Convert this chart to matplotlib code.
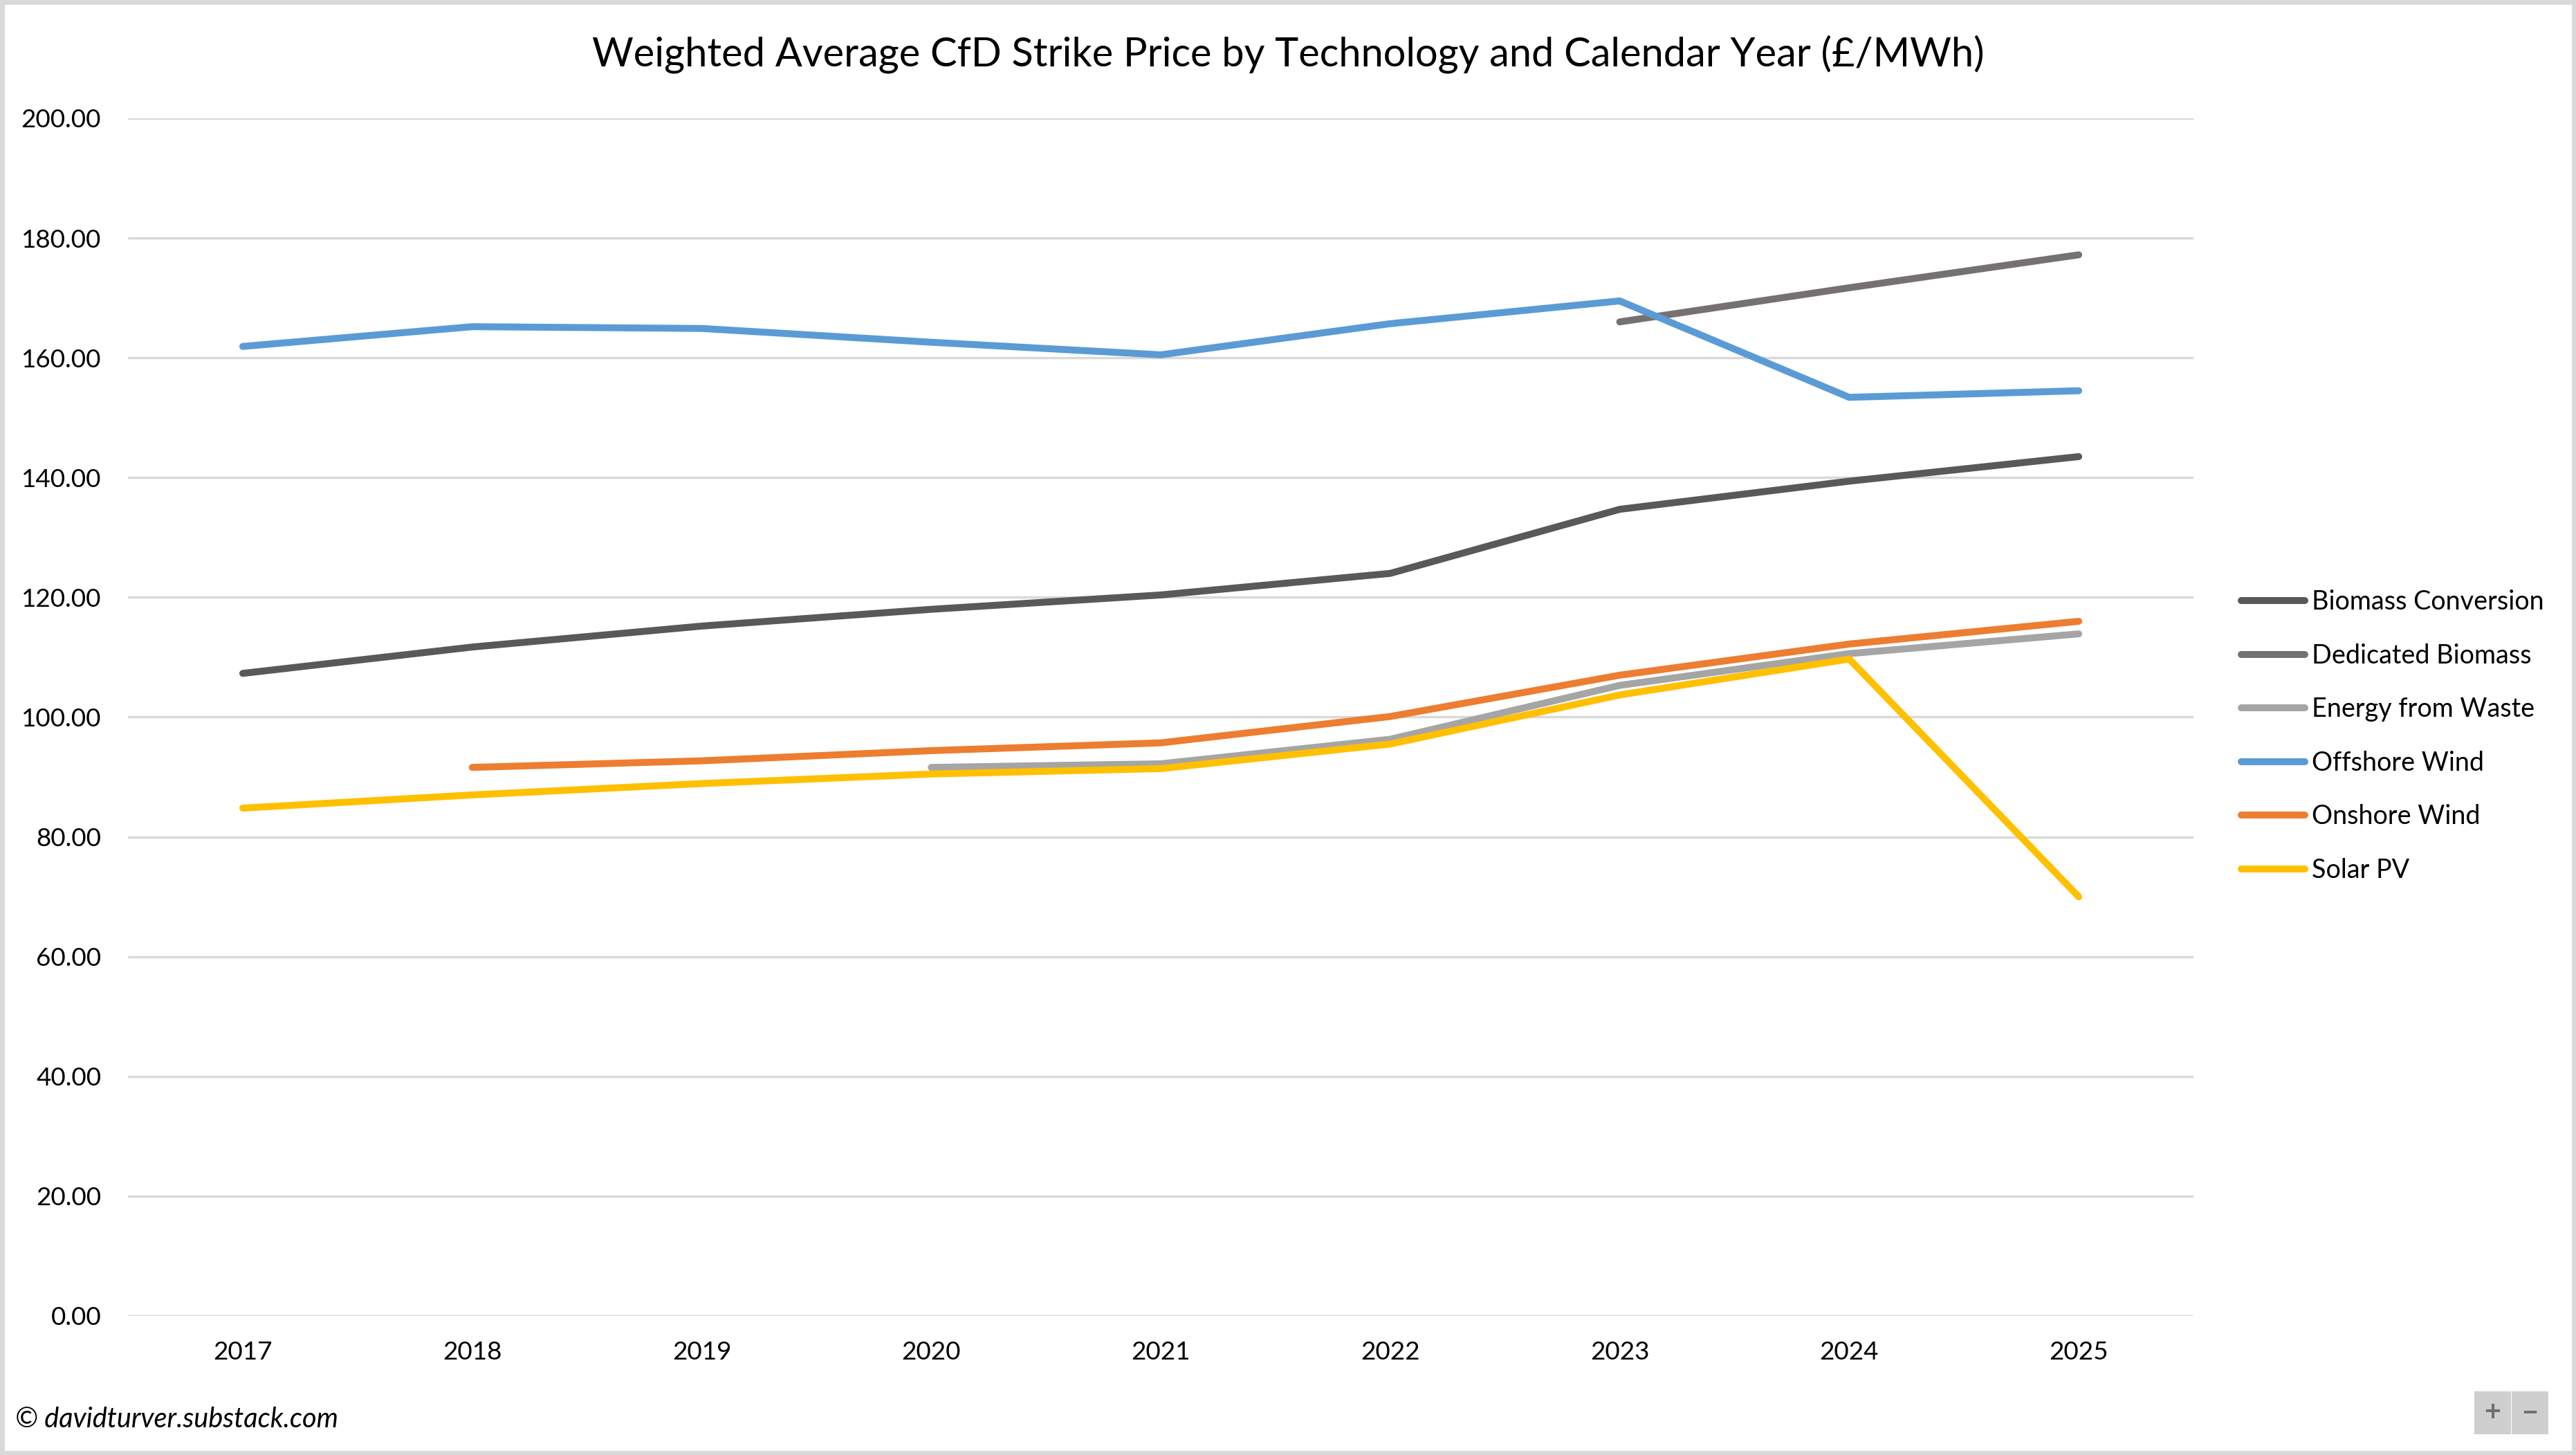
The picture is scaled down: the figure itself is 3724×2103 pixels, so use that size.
import numpy as np
import matplotlib
matplotlib.use("Agg")
import matplotlib.pyplot as plt
from matplotlib.patches import Rectangle

plt.rcParams['font.family'] = ['Lato', 'DejaVu Sans']

years = ['2017', '2018', '2019', '2020', '2021', '2022', '2023', '2024', '2025']
nan = np.nan

biomass_conversion = [107.3, 111.7, 115.2, 118.0, 120.4, 124.0, 134.7, 139.4, 143.5]
dedicated_biomass = [nan, nan, nan, nan, nan, nan, 166.0, 171.7, 177.2]
energy_from_waste = [nan, nan, nan, 91.6, 92.2, 96.3, 105.3, 110.6, 113.9]
offshore_wind = [161.9, 165.2, 164.9, 162.6, 160.5, 165.7, 169.5, 153.4, 154.5]
onshore_wind = [nan, 91.6, 92.7, 94.4, 95.7, 100.1, 107.0, 112.2, 116.0]
solar_pv = [84.8, 87.0, 88.9, 90.5, 91.4, 95.5, 103.7, 109.7, 70.0]

series = [
    ('Biomass Conversion', biomass_conversion, '#595959'),
    ('Dedicated Biomass', dedicated_biomass, '#767171'),
    ('Energy from Waste', energy_from_waste, '#a5a5a5'),
    ('Offshore Wind', offshore_wind, '#5b9bd5'),
    ('Onshore Wind', onshore_wind, '#ed7d31'),
    ('Solar PV', solar_pv, '#ffc000'),
]

fig = plt.figure(figsize=(18.62, 10.515), dpi=200)
ax = fig.add_axes([0.0497, 0.0956, 0.8018, 0.8231])

x = np.arange(len(years))
for name, vals, col in series:
    ax.plot(x, vals, color=col, lw=3.6, label=name,
            solid_capstyle='round', solid_joinstyle='miter')

ax.set_xlim(-0.5, len(years) - 0.5)
ax.set_ylim(0, 200)
ax.set_yticks(np.arange(0, 201, 20))
ax.set_yticklabels([f'{v:.2f}' for v in np.arange(0, 201, 20)])
ax.set_xticks(x)
ax.set_xticklabels(years)
ax.grid(axis='y', color='#d9d9d9', lw=1.25)
ax.set_axisbelow(True)
for s in ax.spines.values():
    s.set_visible(False)
ax.tick_params(length=0, labelsize=13.3, colors='black')
ax.tick_params(axis='y', pad=14)
ax.tick_params(axis='x', pad=13)

leg = ax.legend(loc='center left', bbox_to_anchor=(0.870, 0.494),
                bbox_transform=fig.transFigure, frameon=False, fontsize=13.6,
                handlelength=2.45, handletextpad=0.25, labelspacing=1.1,
                borderpad=0, borderaxespad=0)
for h in leg.get_lines():
    h.set_linewidth(3.6)
    h.set_solid_capstyle('round')

fig.text(0.5, 0.963, 'Weighted Average CfD Strike Price by Technology and Calendar Year (£/MWh)',
         ha='center', va='center', fontsize=20.8)
fig.text(0.006, 0.0245, '© davidturver.substack.com', ha='left', va='center',
         fontsize=14.3, style='italic')

# outer frame
fig.patches.append(Rectangle((0.0008, 0.0015), 0.9984, 0.997, transform=fig.transFigure,
                             fill=False, edgecolor='#d9d9d9', lw=2.5))

# zoom buttons in the corner
for i, sym in enumerate(['+', '−']):
    x0 = 3577 / 3724 + i * 54 / 3724
    fig.patches.append(Rectangle((x0, 1 - 2073 / 2103), 53 / 3724, 62 / 2103,
                                 transform=fig.transFigure, facecolor='#cfcfcf',
                                 edgecolor='none'))
    fig.text(x0 + 26.5 / 3724, 1 - 2042 / 2103, sym, ha='center', va='center',
             fontsize=15, color='#707070', fontweight='bold')

fig.savefig('out.png', dpi=200)
